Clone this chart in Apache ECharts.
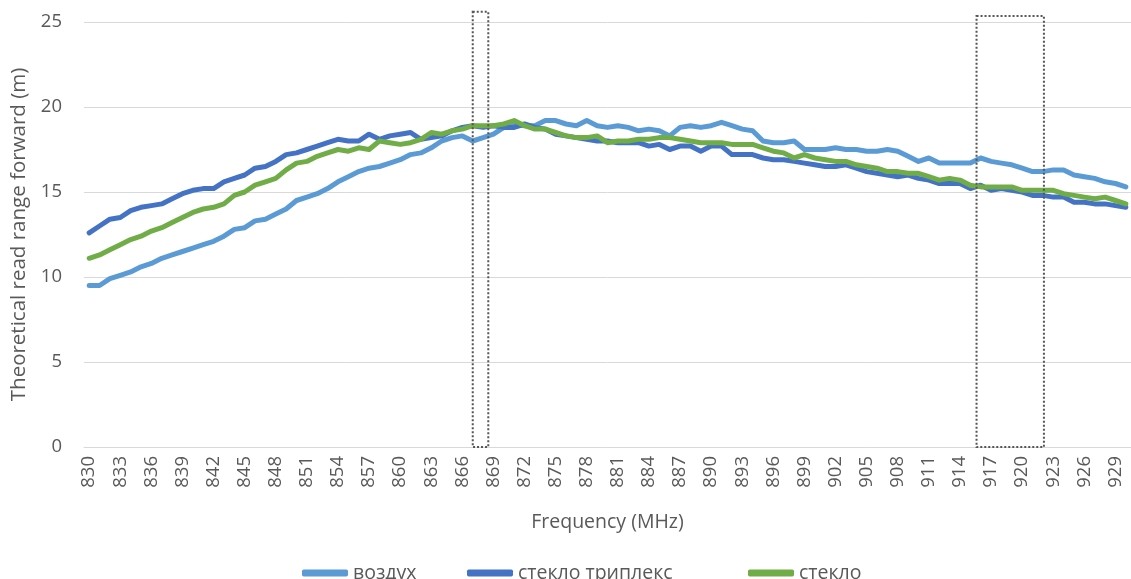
<!DOCTYPE html>
<html>
<head>
<meta charset="utf-8">
<script src="https://cdn.jsdelivr.net/npm/echarts@6/dist/echarts.min.js"></script>
<style>
html,body{margin:0;padding:0;background:#fff;}
#chart{width:1131px;height:579px;}
</style>
</head>
<body>
<div id="chart"></div>
<script>
// Frequencies 830..930 MHz
const frequencies = [];
for (let f = 830; f <= 930; f++) frequencies.push(String(f));

const seriesNames = ['воздух', 'стекло триплекс', 'стекло'];

const vozdukh = [
  9.5, 9.5, 9.9, 10.1, 10.3, 10.6, 10.8, 11.1, 11.3, 11.5,
  11.7, 11.9, 12.1, 12.4, 12.8, 12.9, 13.3, 13.4, 13.7, 14.0,
  14.5, 14.7, 14.9, 15.2, 15.6, 15.9, 16.2, 16.4, 16.5, 16.7,
  16.9, 17.2, 17.3, 17.6, 18.0, 18.2, 18.3, 18.0, 18.2, 18.4,
  18.8, 19.0, 18.9, 18.9, 19.2, 19.2, 19.0, 18.9, 19.2, 18.9,
  18.8, 18.9, 18.8, 18.6, 18.7, 18.6, 18.3, 18.8, 18.9, 18.8,
  18.9, 19.1, 18.9, 18.7, 18.6, 18.0, 17.9, 17.9, 18.0, 17.5,
  17.5, 17.5, 17.6, 17.5, 17.5, 17.4, 17.4, 17.5, 17.4, 17.1,
  16.8, 17.0, 16.7, 16.7, 16.7, 16.7, 17.0, 16.8, 16.7, 16.6,
  16.4, 16.2, 16.2, 16.3, 16.3, 16.0, 15.9, 15.8, 15.6, 15.5,
  15.3
];

const tripleks = [
  12.6, 13.0, 13.4, 13.5, 13.9, 14.1, 14.2, 14.3, 14.6, 14.9,
  15.1, 15.2, 15.2, 15.6, 15.8, 16.0, 16.4, 16.5, 16.8, 17.2,
  17.3, 17.5, 17.7, 17.9, 18.1, 18.0, 18.0, 18.4, 18.1, 18.3,
  18.4, 18.5, 18.1, 18.2, 18.3, 18.6, 18.8, 18.9, 18.8, 18.9,
  18.8, 18.8, 19.0, 18.8, 18.7, 18.4, 18.3, 18.2, 18.1, 18.0,
  18.0, 17.9, 17.9, 17.9, 17.7, 17.8, 17.5, 17.7, 17.7, 17.4,
  17.7, 17.7, 17.2, 17.2, 17.2, 17.0, 16.9, 16.9, 16.8, 16.7,
  16.6, 16.5, 16.5, 16.6, 16.4, 16.2, 16.1, 16.0, 15.9, 16.0,
  15.8, 15.7, 15.5, 15.5, 15.5, 15.2, 15.4, 15.1, 15.2, 15.1,
  15.0, 14.8, 14.8, 14.7, 14.7, 14.4, 14.4, 14.3, 14.3, 14.2,
  14.1
];

const steklo = [
  11.1, 11.3, 11.6, 11.9, 12.2, 12.4, 12.7, 12.9, 13.2, 13.5,
  13.8, 14.0, 14.1, 14.3, 14.8, 15.0, 15.4, 15.6, 15.8, 16.3,
  16.7, 16.8, 17.1, 17.3, 17.5, 17.4, 17.6, 17.5, 18.0, 17.9,
  17.8, 17.9, 18.1, 18.5, 18.4, 18.6, 18.7, 18.9, 18.9, 18.9,
  19.0, 19.2, 18.9, 18.7, 18.7, 18.5, 18.3, 18.2, 18.2, 18.3,
  17.9, 18.0, 18.0, 18.1, 18.1, 18.2, 18.2, 18.1, 18.0, 17.9,
  17.9, 17.9, 17.8, 17.8, 17.8, 17.6, 17.4, 17.3, 17.0, 17.2,
  17.0, 16.9, 16.8, 16.8, 16.6, 16.5, 16.4, 16.2, 16.2, 16.1,
  16.1, 15.9, 15.7, 15.8, 15.7, 15.4, 15.3, 15.3, 15.3, 15.3,
  15.1, 15.1, 15.1, 15.1, 14.9, 14.8, 14.7, 14.6, 14.7, 14.5,
  14.3
];

// Dotted annotation frames: [fromMHz, toMHz, bottom, top]
const bandFrames = [
  [867.0, 868.5, 0, 25.6],
  [915.6, 922.1, 0, 25.35]
];

const colors = ['#5B9BD5', '#4472C4', '#70AD47'];
const FONT = 'Open Sans';
const TEXT = '#595959';
const legendLefts = [302, 467, 748];

const chart = echarts.init(document.getElementById('chart'), null, {renderer: 'canvas'});

const lineSeries = [vozdukh, tripleks, steklo].map((d, i) => ({
  name: seriesNames[i],
  type: 'line',
  data: d,
  xAxisIndex: 0,
  yAxisIndex: 0,
  showSymbol: false,
  symbol: 'none',
  lineStyle: {width: 5, color: colors[i], cap: 'round', join: 'round'},
  itemStyle: {color: colors[i]},
  z: 2 + i
}));

const legends = seriesNames.map((n, i) => ({
  data: [n],
  bottom: -4,
  left: legendLefts[i],
  icon: 'roundRect',
  itemWidth: 46,
  itemHeight: 7,
  padding: 0,
  textStyle: {fontFamily: FONT, fontSize: 19.5, color: TEXT}
}));

const option = {
  animation: false,
  backgroundColor: '#ffffff',
  textStyle: {fontFamily: FONT},
  color: colors,
  grid: {left: 84, right: -3, top: 22, bottom: 132, containLabel: false},
  legend: legends,
  xAxis: [
    {
      type: 'category',
      data: frequencies,
      boundaryGap: true,
      name: 'Frequency (MHz)',
      nameLocation: 'middle',
      nameGap: 65,
      nameTextStyle: {fontFamily: FONT, fontSize: 19.5, color: TEXT},
      axisLine: {show: true, lineStyle: {color: '#D9D9D9', width: 1}},
      axisTick: {show: false},
      axisLabel: {interval: 2, rotate: 90, margin: 9, fontFamily: FONT, fontSize: 18.5, color: TEXT},
      splitLine: {show: false}
    },
    {
      type: 'value',
      min: 829.5,
      max: 930.5,
      show: false,
      gridIndex: 0
    }
  ],
  yAxis: {
    type: 'value',
    min: 0,
    max: 25,
    interval: 5,
    name: 'Theoretical read range forward (m)',
    nameLocation: 'middle',
    nameGap: 54,
    nameTextStyle: {fontFamily: FONT, fontSize: 20.5, color: TEXT},
    axisLine: {show: false},
    axisTick: {show: false},
    axisLabel: {margin: 22, fontFamily: FONT, fontSize: 18.5, color: TEXT},
    splitLine: {lineStyle: {color: '#D9D9D9', width: 1}}
  },
  series: lineSeries.concat([{
    type: 'custom',
    name: 'frames',
    xAxisIndex: 1,
    yAxisIndex: 0,
    clip: false,
    silent: true,
    z: 10,
    data: bandFrames,
    renderItem: function (params, api) {
      const p1 = api.coord([api.value(0), api.value(3)]);
      const p2 = api.coord([api.value(1), api.value(2)]);
      return {
        type: 'rect',
        shape: {x: p1[0], y: p1[1], width: p2[0] - p1[0], height: p2[1] - p1[1]},
        style: {fill: 'none', stroke: '#555555', lineWidth: 2, lineDash: [2, 2]}
      };
    }
  }])
};

chart.setOption(option);
</script>
</body>
</html>
